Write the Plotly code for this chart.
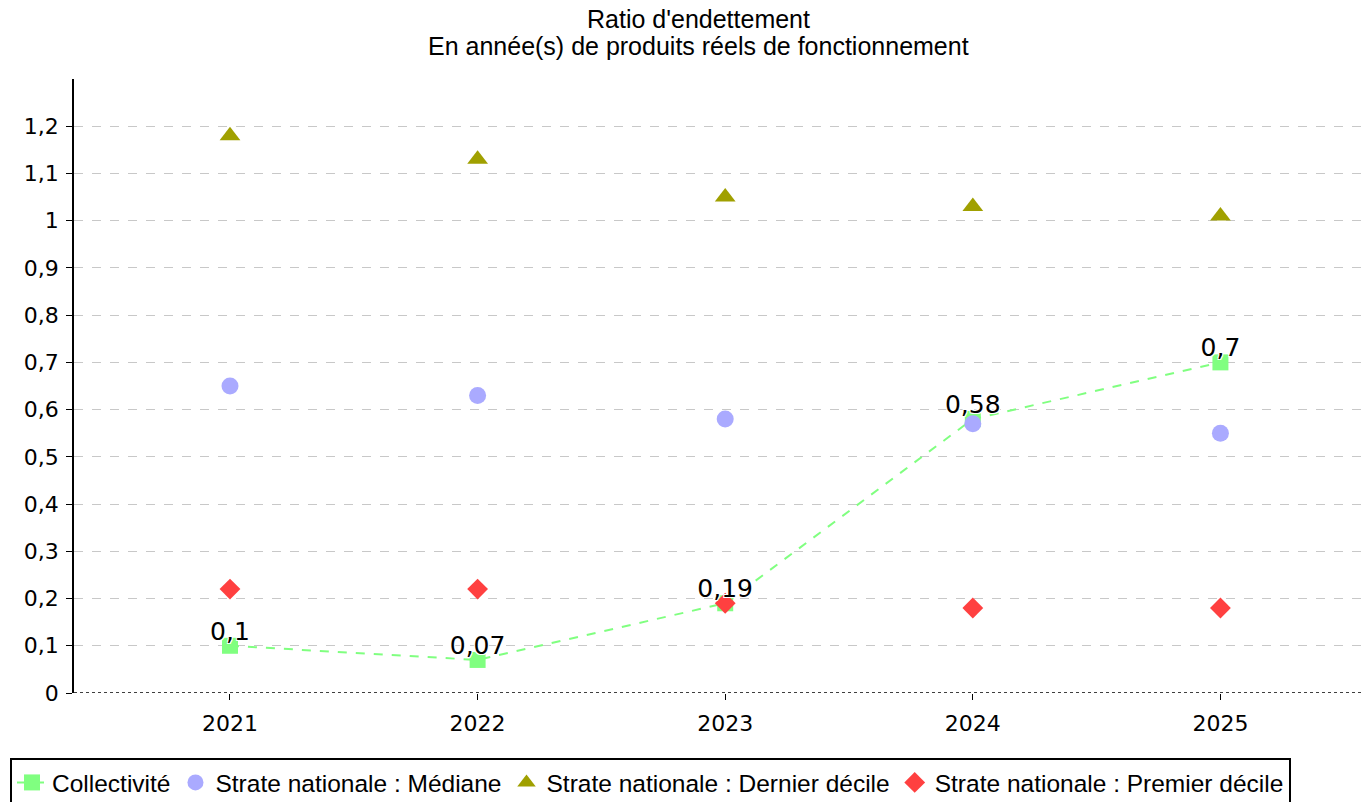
import plotly.graph_objects as go

years = ["2021", "2022", "2023", "2024", "2025"]
collectivite = [0.1, 0.07, 0.19, 0.58, 0.7]
mediane = [0.65, 0.63, 0.58, 0.57, 0.55]
dernier_decile = [1.18, 1.13, 1.05, 1.03, 1.01]
premier_decile = [0.22, 0.22, 0.19, 0.18, 0.18]
y_ticks = [0, 0.1, 0.2, 0.3, 0.4, 0.5, 0.6, 0.7, 0.8, 0.9, 1, 1.1, 1.2]
y_ticktext = ["0", "0,1", "0,2", "0,3", "0,4", "0,5", "0,6", "0,7", "0,8", "0,9", "1", "1,1", "1,2"]
labels_coll = ["0,1", "0,07", "0,19", "0,58", "0,7"]
title_lines = ["Ratio d'endettement", "En année(s) de produits réels de fonctionnement"]

fig = go.Figure()
fig.add_trace(go.Scatter(
    x=years, y=collectivite, name="Collectivité", mode="lines+markers",
    line=dict(color="#80ff80", width=2, dash="dash"),
    marker=dict(symbol="square", size=16, color="#80ff80"),
))
fig.add_trace(go.Scatter(
    x=years, y=mediane, name="Strate nationale : Médiane", mode="markers",
    marker=dict(symbol="circle", size=17, color="#aaaaff"),
))
fig.add_trace(go.Scatter(
    x=years, y=dernier_decile, name="Strate nationale : Dernier décile", mode="markers",
    marker=dict(symbol="triangle-up", size=18, color="#a0a000"),
))
fig.add_trace(go.Scatter(
    x=years, y=premier_decile, name="Strate nationale : Premier décile", mode="markers",
    marker=dict(symbol="diamond", size=16, color="#ff4040"),
))
fig.add_trace(go.Scatter(
    x=years, y=collectivite, mode="text", text=labels_coll, textposition="top center",
    textfont=dict(family="DejaVu Sans", size=25, color="#000000",
                  shadow="-1px -1px 0 #fff, 1px -1px 0 #fff, -1px 1px 0 #fff, 1px 1px 0 #fff"),
    showlegend=False, hoverinfo="skip",
))

fig.add_shape(type="line", xref="paper", yref="y", x0=0, x1=1, y0=0, y1=0,
              line=dict(color="#000000", width=1.5, dash="dot"))

title_font = dict(family="Liberation Sans, Arial", size=25, color="#000000")
fig.add_annotation(text=title_lines[0], xref="paper", yref="paper", x=0.482, y=1.097,
                   xanchor="center", yanchor="middle", showarrow=False, font=title_font)
fig.add_annotation(text=title_lines[1], xref="paper", yref="paper", x=0.482, y=1.053,
                   xanchor="center", yanchor="middle", showarrow=False, font=title_font)

fig.update_layout(
    width=1369, height=802,
    margin=dict(l=66, r=8, t=71, b=117, autoexpand=False),
    paper_bgcolor="white", plot_bgcolor="white",
    separators=", ",
    showlegend=True,
    legend=dict(
        orientation="h", xref="container", yref="container",
        x=2 / 1369, xanchor="left", y=1 - 750 / 802, yanchor="top",
        bordercolor="#000000", borderwidth=2,
        font=dict(family="Liberation Sans, Arial", size=24.5, color="#000000"),
        itemwidth=30,
    ),
    xaxis=dict(
        type="category", range=[-0.63, 4.6],
        showgrid=False, zeroline=False, showline=False,
        ticks="outside", ticklen=6, tickcolor="#000000", ticklabelstandoff=5,
        tickfont=dict(family="DejaVu Sans", size=22, color="#000000"),
    ),
    yaxis=dict(
        range=[0, 1.3], tickvals=y_ticks, ticktext=y_ticktext,
        showgrid=True, gridcolor="#c8c8c8", griddash="dash", gridwidth=1,
        zeroline=False, showline=True, linecolor="#000000", linewidth=1.5,
        ticks="outside", ticklen=6, tickcolor="#000000", ticklabelstandoff=3,
        tickfont=dict(family="DejaVu Sans", size=22, color="#000000"),
    ),
)

fig.write_html("out.html")
